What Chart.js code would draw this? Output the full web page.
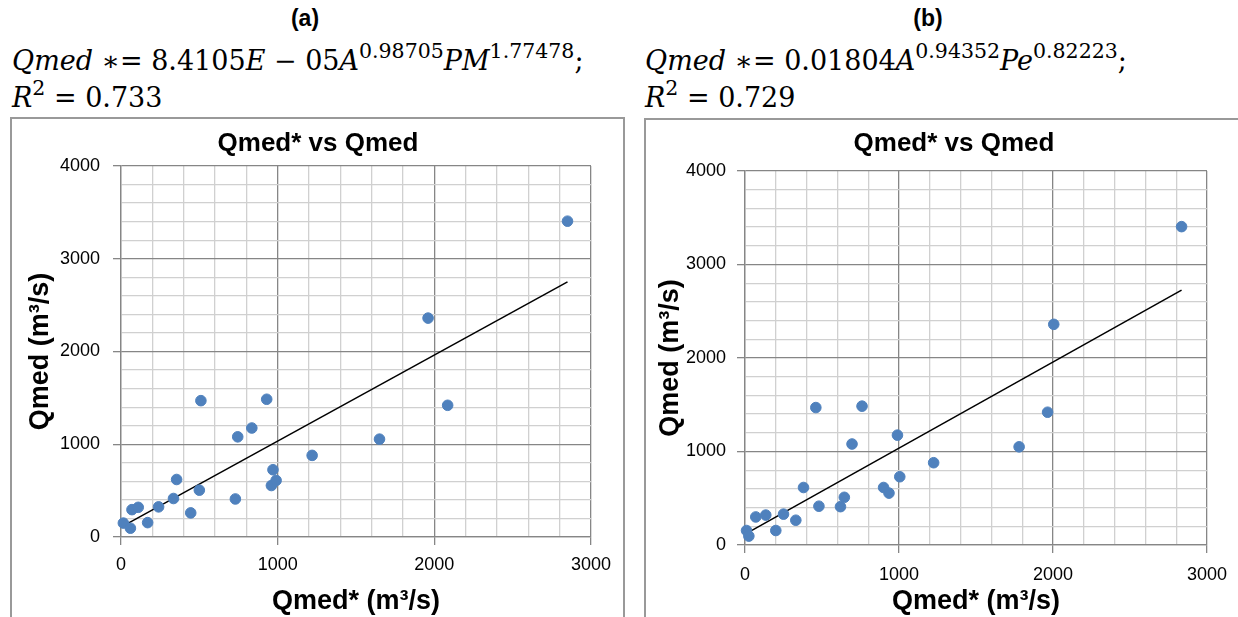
<!DOCTYPE html>
<html>
<head>
<meta charset="utf-8">
<script src="https://cdn.jsdelivr.net/npm/chart.js@4"></script>
<style>
  html, body { margin: 0; padding: 0; background: #fff; }
  body { width: 1238px; height: 617px; position: relative; overflow: hidden; }
  .hdr { position: absolute; font: bold 23px "Liberation Sans", Arial, sans-serif; text-align: center; width: 200px; line-height: 26px; }
  .ttl { position: absolute; font: bold 26px "Liberation Sans", Arial, sans-serif; text-align: center; width: 400px; line-height: 30px; color: #000; }
  .eq { position: absolute; font-family: "DejaVu Serif", "Liberation Serif", serif; font-size: 27px; line-height: 27px; white-space: nowrap; color: #000; }
  .eq sup { font-size: 20.5px; vertical-align: 0; position: relative; top: -12px; }
  .box { position: absolute; border: 2px solid #999; border-bottom: none; height: 620px; box-sizing: border-box; }
  canvas { position: absolute; }
</style>
</head>
<body>
<div class="hdr" style="left:205px; top:5px;">(a)</div>
<div class="eq" style="left:12px; top:47px;"><i>Qmed</i> ∗= 8.4105<i>E</i> − 05<i>A</i><sup>0.98705</sup><i>PM</i><sup>1.77478</sup>;</div>
<div class="eq" style="left:12px; top:84px;"><i>R</i><sup>2</sup> = 0.733</div>

<div class="hdr" style="left:828px; top:5px;">(b)</div>
<div class="eq" style="left:645px; top:47px;"><i>Qmed</i> ∗= 0.01804<i>A</i><sup>0.94352</sup><i>Pe</i><sup>0.82223</sup>;</div>
<div class="eq" style="left:645px; top:84px;"><i>R</i><sup>2</sup> = 0.729</div>

<div class="box" style="left:10px; top:117px; width:615px;"></div>
<div class="box" style="left:644px; top:118px; width:620px;"></div>

<canvas id="chartA" style="left:12px; top:119px;" width="611" height="520"></canvas>
<canvas id="chartB" style="left:646px; top:120px;" width="592" height="520"></canvas>

<div class="ttl" style="left:118px; top:127px;">Qmed* vs Qmed</div>
<div class="ttl" style="left:754px; top:127px;">Qmed* vs Qmed</div>

<script>
// (a) Qmed* from A and PM
const qmedStarA = [15, 60, 70, 110, 170, 240, 335, 355, 445, 500, 510, 730, 745, 835, 930, 960, 970, 990, 1220, 1650, 2085, 1960, 2850];
const qmedA     = [150, 95, 295, 320, 155, 325, 415, 620, 260, 505, 1470, 410, 1080, 1175, 1485, 555, 725, 610, 880, 1055, 1420, 2360, 3405];
const trendXA = [15, 2850];
const trendYA = [120, 2750];

// (b) Qmed* from A and Pe
const qmedStarB = [10, 25, 70, 135, 200, 250, 330, 380, 460, 480, 620, 645, 695, 760, 900, 935, 990, 1005, 1225, 1780, 1965, 2005, 2835];
const qmedB     = [155, 95, 300, 320, 155, 330, 265, 615, 1470, 415, 410, 510, 1080, 1485, 615, 555, 1175, 730, 880, 1050, 1420, 2360, 3405];
const trendXB = [10, 2835];
const trendYB = [125, 2725];

const xTicks = [0, 1000, 2000, 3000];
const yTicks = [0, 1000, 2000, 3000, 4000];

const MAJOR = '#868686';
const MINOR = '#d0d0d0';
const FONT = '"Liberation Sans", Arial, sans-serif';

function toPoints(xs, ys) {
    return xs.map((x, i) => ({ x: x, y: ys[i] }));
}

function isMajor(v, list) {
    return list.includes(v);
}

function makeChart(id, xs, ys, tx, ty, L) {
    const ctx = document.getElementById(id).getContext('2d');
    return new Chart(ctx, {
        type: 'scatter',
        data: {
            datasets: [{
                data: toPoints(xs, ys),
                backgroundColor: '#4f81bd',
                borderColor: '#4f81bd',
                pointRadius: 5.3,
                pointHoverRadius: 5.3,
                clip: false
            }, {
                data: toPoints(tx, ty),
                showLine: true,
                borderColor: '#000',
                borderWidth: 1.5,
                pointRadius: 0,
                fill: false
            }]
        },
        options: {
            responsive: false,
            animation: false,
            events: [],
            layout: { padding: { left: 0, right: L.right, top: L.top, bottom: 0 } },
            plugins: {
                legend: { display: false },
                tooltip: { enabled: false },
                title: { display: false }
            },
            scales: {
                x: {
                    type: 'linear',
                    min: 0,
                    max: 3000,
                    ticks: {
                        stepSize: 200,
                        autoSkip: false,
                        maxRotation: 0,
                        padding: L.xTickPad,
                        color: '#000',
                        font: { family: FONT, size: 18 },
                        callback: v => isMajor(v, xTicks) ? String(v) : ''
                    },
                    grid: {
                        color: c => isMajor(c.tick.value, xTicks) ? MAJOR : MINOR,
                        tickColor: c => isMajor(c.tick.value, xTicks) ? MAJOR : 'rgba(0,0,0,0)',
                        tickLength: 8,
                        lineWidth: 1.3
                    },
                    border: { color: MAJOR, width: 1.3 },
                    title: {
                        display: true,
                        text: 'Qmed* (m³/s)',
                        color: '#000',
                        font: { family: FONT, size: 27, weight: 'bold' },
                        padding: { top: 0, bottom: L.xTitlePad }
                    },
                    afterFit: s => { s.height = L.xHeight; }
                },
                y: {
                    type: 'linear',
                    min: 0,
                    max: 4000,
                    ticks: {
                        stepSize: 200,
                        autoSkip: false,
                        padding: L.yTickPad,
                        color: '#000',
                        font: { family: FONT, size: 18 },
                        callback: v => isMajor(v, yTicks) ? String(v) : ''
                    },
                    grid: {
                        color: c => isMajor(c.tick.value, yTicks) ? MAJOR : MINOR,
                        tickColor: c => isMajor(c.tick.value, yTicks) ? MAJOR : 'rgba(0,0,0,0)',
                        tickLength: 8,
                        lineWidth: 1.3
                    },
                    border: { color: MAJOR, width: 1.3 },
                    title: {
                        display: true,
                        text: 'Qmed (m³/s)',
                        color: '#000',
                        font: { family: FONT, size: 27, weight: 'bold' },
                        padding: { top: L.yTitlePad, bottom: 0 }
                    },
                    afterFit: s => { s.width = L.yWidth; }
                }
            }
        }
    });
}

makeChart('chartA', qmedStarA, qmedA, trendXA, trendYA, {
    right: 32, top: 47, xHeight: 102, yWidth: 109,
    xTickPad: 9, yTickPad: 13, xTitlePad: 21, yTitlePad: 12
});
makeChart('chartB', qmedStarB, qmedB, trendXB, trendYB, {
    right: 30, top: 51, xHeight: 95, yWidth: 99,
    xTickPad: 11, yTickPad: 11, xTitlePad: 22, yTitlePad: 8
});
</script>
</body>
</html>
